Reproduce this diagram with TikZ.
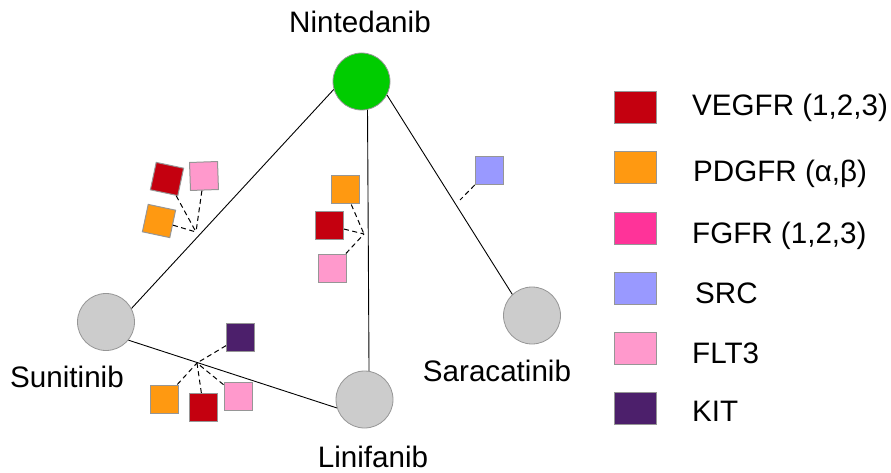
\documentclass[tikz,border=0pt]{standalone}
\usepackage{fontspec}
\setmainfont{Liberation Sans}
\definecolor{cvegfr}{RGB}{196,0,15}
\definecolor{cpdgfr}{RGB}{255,153,17}
\definecolor{cfgfr}{RGB}{255,51,153}
\definecolor{csrc}{RGB}{153,153,255}
\definecolor{cflt}{RGB}{255,153,204}
\definecolor{ckit}{RGB}{76,31,107}
\definecolor{cgreen}{RGB}{0,204,0}
\definecolor{cgrayfill}{RGB}{204,204,204}
\definecolor{cborder}{RGB}{150,150,150}
\tikzset{
  drug/.style={circle, minimum size=57pt, inner sep=0pt, draw=cborder, line width=0.8pt, fill=cgrayfill},
  sq/.style={rectangle, minimum size=28pt, inner sep=0pt, draw=cborder, line width=1pt},
  leg/.style={rectangle, minimum width=42pt, minimum height=32pt, inner sep=0pt, draw=cborder, line width=1pt},
  lbl/.style={font=\fontsize{29.6}{34}\selectfont, inner sep=0pt, anchor=base},
  legtxt/.style={font=\fontsize{29.6}{34}\selectfont, inner sep=0pt, anchor=base west},
  edge/.style={draw=black, line width=0.9pt},
  dlink/.style={draw=black, line width=1pt, dash pattern=on 5pt off 3.5pt},
}
\begin{document}
\begin{tikzpicture}[x=1pt,y=-1pt]
\useasboundingbox (0,0) rectangle (891,473);
% drugs
\node[drug, fill=cgreen] (nin) at (361.5,81.5) {};
\node[drug] (sun) at (106,322) {};
\node[drug] (lin) at (364.5,399.5) {};
\node[drug] (sar) at (532,315.5) {};
\node[lbl] (ninl) at (360,33) {Nintedanib};
\node[lbl] (sunl) at (67,387) {Sunitinib};
\node[lbl] (linl) at (373,467.5) {Linifanib};
\node[lbl] (sarl) at (497,381) {Saracatinib};
% edges
\draw[edge] (nin.196) -- (sun.28);
\draw[edge] (nin.-78) -- (lin.81);
\draw[edge] (nin.-28) -- (sar.133);
\draw[edge] (sun.-39) -- (lin.197);
% group A (Nintedanib-Sunitinib)
\coordinate (ca) at (196,232);
\node[sq, fill=cvegfr, rotate=-12] (a1) at (167,179) {};
\node[sq, fill=cflt, rotate=2] (a2) at (204,176) {};
\node[sq, fill=cpdgfr, rotate=-12] (a3) at (159,221) {};
\draw[dlink] (a1) -- (ca);
\draw[dlink] (a2) -- (ca);
\draw[dlink] (a3) -- (ca);
% group B (Nintedanib-Linifanib)
\coordinate (cb) at (364,234);
\node[sq, fill=cpdgfr] (b1) at (345,190) {};
\node[sq, fill=cvegfr] (b2) at (329.5,225.5) {};
\node[sq, fill=cflt] (b3) at (332.5,268) {};
\draw[dlink] (b1) -- (cb);
\draw[dlink] (b2) -- (cb);
\draw[dlink] (b3) -- (cb);
% group C (Sunitinib-Linifanib)
\coordinate (cc) at (197,363);
\node[sq, fill=ckit] (c1) at (240.5,337) {};
\node[sq, fill=cpdgfr] (c2) at (164,399) {};
\node[sq, fill=cvegfr] (c3) at (203.5,407.5) {};
\node[sq, fill=cflt] (c4) at (238,396.5) {};
\draw[dlink] (c1) -- (cc);
\draw[dlink] (c2) -- (cc);
\draw[dlink] (c3) -- (cc);
\draw[dlink] (c4) -- (cc);
% group D (Nintedanib-Saracatinib)
\coordinate (cd) at (460,200);
\node[sq, fill=csrc] (d1) at (489,170.5) {};
\draw[dlink] (d1) -- (cd);
% legend
\node[leg, fill=cvegfr] (l1) at (635,108) {};
\node[leg, fill=cpdgfr] (l2) at (635,168) {};
\node[leg, fill=cfgfr] (l3) at (635,228) {};
\node[leg, fill=csrc] (l4) at (635,288) {};
\node[leg, fill=cflt] (l5) at (635,348) {};
\node[leg, fill=ckit] (l6) at (635,408) {};
\node[legtxt] (t1) at (692,116) {VEGFR (1,2,3)};
\node[legtxt] (t2) at (693,182) {PDGFR (α,β)};
\node[legtxt] (t3) at (692,243) {FGFR (1,2,3)};
\node[legtxt] (t4) at (695,303) {SRC};
\node[legtxt] (t5) at (692,363) {FLT3};
\node[legtxt] (t6) at (692,421) {KIT};
\end{tikzpicture}
\end{document}
